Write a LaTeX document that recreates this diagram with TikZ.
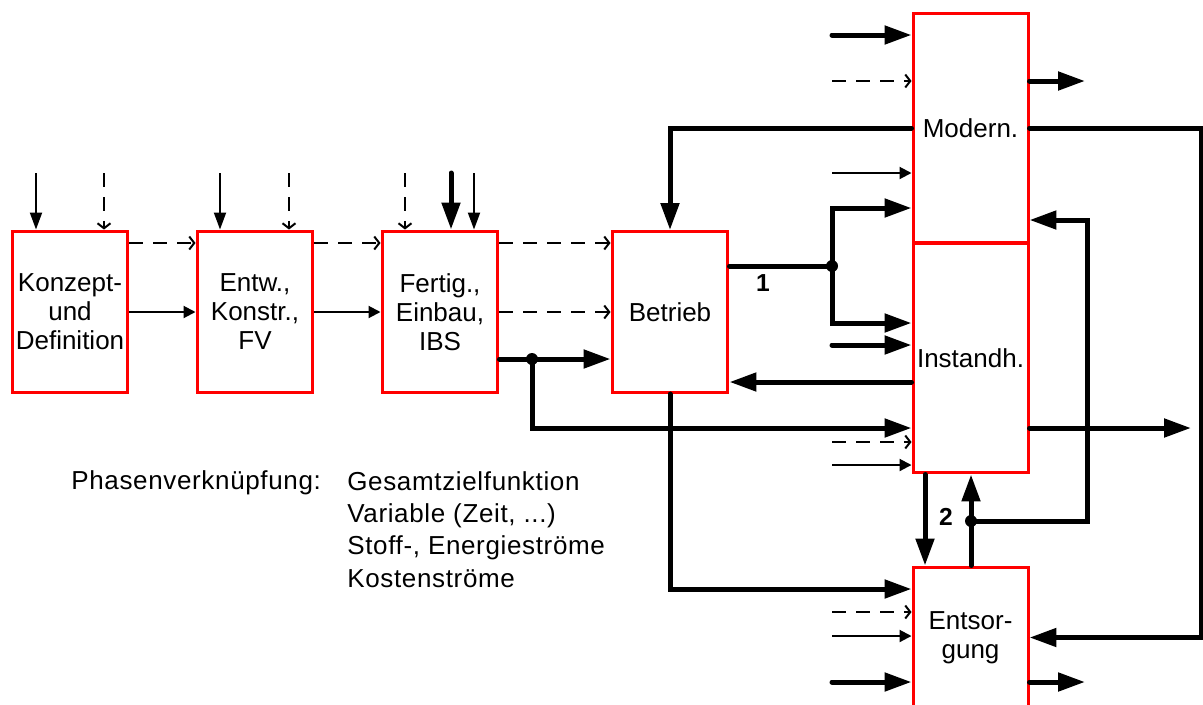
\documentclass[tikz,border=0pt]{standalone}
\usepackage{fontspec}
\setmainfont{Liberation Sans}
\newfontfamily\notefont[LetterSpace=2.5]{Liberation Sans}
\usetikzlibrary{arrows.meta, positioning, calc}
\definecolor{phasered}{RGB}{255, 0, 0}

\begin{document}
\begin{tikzpicture}[
  x=0.02cm, y=-0.02cm,
  phase/.style={rectangle, draw=phasered, line width=0.06cm, fill=white, minimum width=2.32cm, inner sep=0pt, align=center, font=\fontsize{14.8}{16.5}\selectfont},
  flowthick/.style={line width=0.1cm, line cap=round, -{Triangle[length=0.54cm, width=0.36cm]}},
  linethick/.style={line width=0.1cm, line cap=round},
  flowthin/.style={line width=0.04cm, -{Triangle[length=0.24cm, width=0.24cm]}},
  flowdown/.style={line width=0.04cm, -{Triangle[length=0.34cm, width=0.24cm]}},
  flowdash/.style={line width=0.04cm, dash pattern=on 0.28cm off 0.2cm, -{Straight Barb[length=0.1cm, width=0.26cm]}},
  numlabel/.style={font=\fontsize{14}{16}\selectfont\bfseries},
  note/.style={font=\notefont\fontsize{14.8}{18.4}\selectfont, align=left, inner sep=0pt}
]
  \useasboundingbox (0,0) rectangle (1203,704);

  % phases
  \node[phase, minimum height=3.24cm] (konzept) at (70,312) {Konzept-\\und\\Definition};
  \node[phase, minimum height=3.24cm] (entw) at (255,312) {Entw.,\\Konstr.,\\FV};
  \node[phase, minimum height=3.24cm] (fertig) at (440,312) {Fertig.,\\Einbau,\\IBS};
  \node[phase, minimum height=3.22cm] (betrieb) at (670,312) {Betrieb};
  \node[phase, minimum width=2.3cm, minimum height=4.6cm] (modern) at (970.5,128) {Modern.};
  \node[phase, minimum width=2.3cm, minimum height=4.6cm] (instand) at (970.5,358) {Instandh.};
  \node[phase, minimum width=2.3cm, minimum height=2.82cm] (entsorg) at (970.5,637.5) {Entsor-\\gung};

  % inputs from above
  \coordinate (k1) at (36,173);
  \coordinate (k2) at (104,173);
  \coordinate (w1) at (220,173);
  \coordinate (w2) at (289,173);
  \coordinate (f1) at (405,173);
  \coordinate (f2) at (451,173);
  \coordinate (f3) at (474,173);
  \draw[flowdown] (k1) -- (k1 |- konzept.north);
  \draw[flowdash] (k2) -- (k2 |- konzept.north);
  \draw[flowdown] (w1) -- (w1 |- entw.north);
  \draw[flowdash] (w2) -- (w2 |- entw.north);
  \draw[flowdash] (f1) -- (f1 |- fertig.north);
  \draw[flowthick] (f2) -- (f2 |- fertig.north);
  \draw[flowdown] (f3) -- (f3 |- fertig.north);

  % phase links
  \draw[flowdash] (konzept.east |- 0,243) -- (entw.west |- 0,243);
  \draw[flowdash] (entw.east |- 0,243) -- (fertig.west |- 0,243);
  \draw[flowdash] (fertig.east |- 0,243) -- (betrieb.west |- 0,243);
  \draw[flowthin] (konzept) -- (entw);
  \draw[flowthin] (entw) -- (fertig);
  \draw[flowdash] (fertig) -- (betrieb);

  \coordinate (j1) at (532,359);
  \draw[linethick] (fertig.east |- j1) -- (j1);
  \draw[flowthick] (j1) -- (j1 -| betrieb.west);
  \draw[flowthick] (j1) |- (instand.west |- 0,428);
  \fill (j1) circle (0.12cm);

  \draw[flowthick] (modern.west) -| (betrieb.north);
  \coordinate (j2) at (832,266);
  \draw[linethick] (betrieb.east |- j2) -- (j2);
  \draw[flowthick] (j2) |- (modern.west |- 0,208);
  \draw[flowthick] (j2) |- (instand.west |- 0,323);
  \fill (j2) circle (0.12cm);
  \node[numlabel] (lab1) at (763,283) {1};
  \draw[flowthick] (instand.west |- 0,382) -- (betrieb.east |- 0,382);
  \draw[flowthick] (betrieb.south) |- (entsorg.west |- 0,589);

  % inputs from the left
  \coordinate (m1) at (832,35);
  \coordinate (m2) at (832,81);
  \coordinate (m3) at (832,173);
  \coordinate (i1) at (832,345);
  \coordinate (i2) at (832,442);
  \coordinate (i3) at (832,465);
  \coordinate (e1) at (832,612);
  \coordinate (e2) at (832,636);
  \coordinate (e3) at (832,682);
  \draw[flowthick] (m1) -- (m1 -| modern.west);
  \draw[flowdash] (m2) -- (m2 -| modern.west);
  \draw[flowthin] (m3) -- (m3 -| modern.west);
  \draw[flowthick] (i1) -- (i1 -| instand.west);
  \draw[flowdash] (i2) -- (i2 -| instand.west);
  \draw[flowthin] (i3) -- (i3 -| instand.west);
  \draw[flowdash] (e1) -- (e1 -| entsorg.west);
  \draw[flowthin] (e2) -- (e2 -| entsorg.west);
  \draw[flowthick] (e3) -- (e3 -| entsorg.west);

  % outputs and feedback
  \coordinate (mout) at (1085,81);
  \coordinate (iout) at (1191,428);
  \coordinate (eout) at (1085,682);
  \draw[flowthick] (modern.east |- mout) -- (mout);
  \draw[flowthick] (instand.east |- iout) -- (iout);
  \draw[flowthick] (entsorg.east |- eout) -- (eout);

  \coordinate (rloop) at (1201,0);
  \draw[flowthick] (modern.east) -- (modern.east -| rloop) |- (entsorg.east);

  \coordinate (j3) at (971,521);
  \coordinate (mloop) at (1087,0);
  \draw[flowthick] (instand.south -| 925,0) -- (entsorg.north -| 925,0);
  \draw[flowthick] (entsorg.north -| j3) -- (instand.south -| j3);
  \draw[flowthick] (j3) -- (j3 -| mloop) |- (modern.east |- 0,220);
  \fill (j3) circle (0.12cm);
  \node[numlabel] (lab2) at (946,517) {2};

  % legend
  \node[note, anchor=base west] (phlabel) at (71,489) {Phasenverknüpfung:};
  \node[note, anchor=base west] (phlist) at (347,587) {Gesamtzielfunktion\\Variable (Zeit, ...)\\Stoff-, Energieströme\\Kostenströme};
\end{tikzpicture}
\end{document}
